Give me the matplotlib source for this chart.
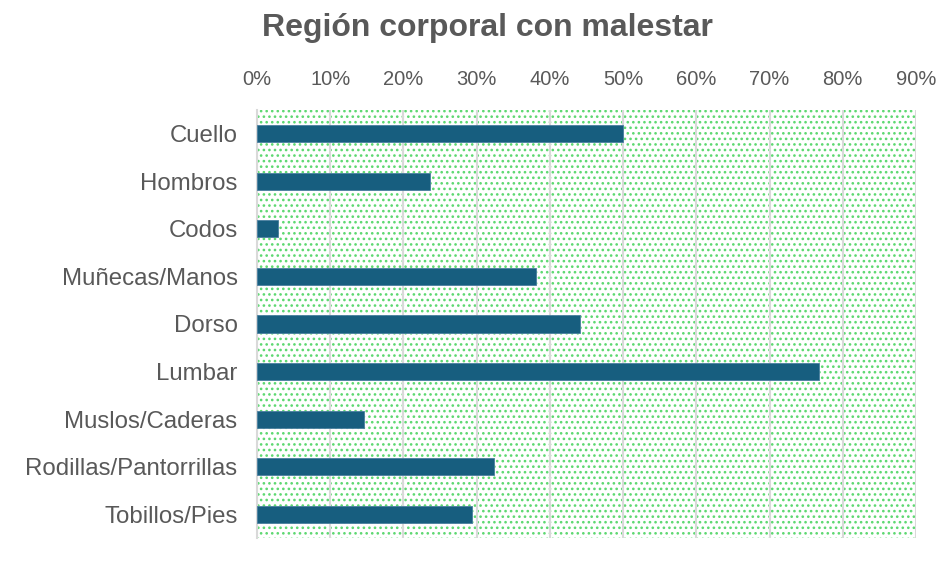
import matplotlib.pyplot as plt
import matplotlib as mpl
from matplotlib.ticker import PercentFormatter

plt.rcParams['font.family'] = ['Liberation Sans', 'DejaVu Sans']

categories = ['Cuello', 'Hombros', 'Codos', 'Muñecas/Manos', 'Dorso', 'Lumbar',
              'Muslos/Caderas', 'Rodillas/Pantorrillas', 'Tobillos/Pies']
values = [50.0, 23.6, 2.8, 38.1, 44.1, 76.7, 14.6, 32.3, 29.3]

bar_color = '#175E7F'
text_color = '#595959'

fig = plt.figure(figsize=(9.51, 5.61), dpi=100)
ax = fig.add_axes([257 / 951, 23 / 561, 659 / 951, 428 / 561])

# dotted green plot area fill
mpl.rcParams['hatch.linewidth'] = 1.1
bg = plt.Rectangle((0, 0), 1, 1, transform=ax.transAxes, facecolor='white',
                   edgecolor='#5CD870', hatch='...', linewidth=0, zorder=0)
ax.add_patch(bg)

y = list(range(len(categories)))
ax.barh(y, values, height=0.36, color=bar_color, edgecolor='#4A7FA0',
        linewidth=0.6, zorder=3)

ax.set_xlim(0, 90)
ax.set_ylim(len(categories) - 0.5, -0.5)
ax.set_xticks(range(0, 91, 10))
ax.xaxis.set_major_formatter(PercentFormatter(decimals=0))
ax.xaxis.tick_top()
ax.set_yticks(y)
ax.set_yticklabels(categories)
ax.tick_params(axis='both', length=0, colors=text_color)
ax.tick_params(axis='x', pad=15, labelsize=14.5)
ax.tick_params(axis='y', pad=14, labelsize=17.3)

ax.grid(axis='x', color='#D9D9D9', linewidth=1.5, zorder=1)
ax.set_axisbelow(True)
for s in ['top', 'right', 'bottom']:
    ax.spines[s].set_visible(False)
ax.spines['left'].set_color('#D9D9D9')
ax.spines['left'].set_linewidth(1.5)

fig.text(487 / 951, 1 - 28 / 561, 'Región corporal con malestar', ha='center',
         va='center', fontsize=23, fontweight='bold', color=text_color)

fig.savefig('out.png', dpi=100)
